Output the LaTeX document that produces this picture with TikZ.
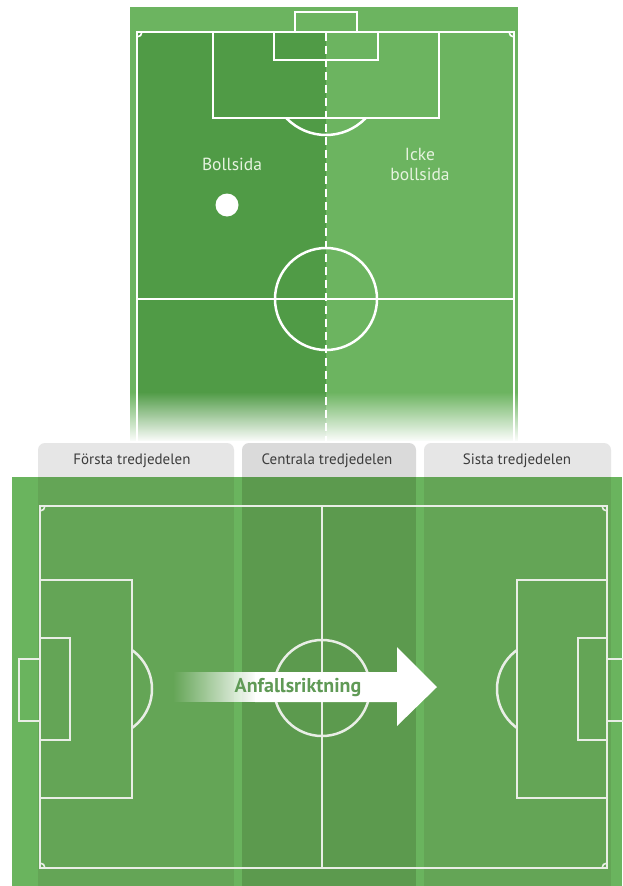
\documentclass[tikz,border=0pt]{standalone}
\usepackage{fontspec}
\setmainfont{PT Sans}
\usetikzlibrary{fadings}

\definecolor{topdark}{HTML}{509B46}
\definecolor{toplight}{HTML}{6CB460}
\definecolor{fieldlight}{HTML}{6AB45E}
\definecolor{fieldmid}{HTML}{64A556}
\definecolor{fielddark}{HTML}{5C9A4E}
\definecolor{tabgray}{HTML}{E6E6E6}
\definecolor{tabgraydark}{HTML}{DADADA}
\definecolor{tabtext}{HTML}{3C3C3C}
\definecolor{chalk}{HTML}{E9EEE6}
\definecolor{arrowtext}{HTML}{609A56}
\definecolor{sidetext}{HTML}{E6F3DF}

\tikzfading[name=fadeleft, left color=transparent!100, right color=transparent!0]
\tikzfading[name=fadedown, top color=transparent!100, bottom color=transparent!0]

\tikzset{
  topline/.style={draw=white, line width=2.5pt},
  fieldline/.style={draw=chalk, line width=2.5pt},
  tablabel/.style={text=tabtext, font=\fontsize{15}{15}\selectfont, inner sep=0pt},
  sidelabel/.style={text=sidetext, font=\fontsize{17.5}{20}\selectfont, align=center, inner sep=0pt},
  tabshape/.style={rounded corners=7pt},
}

\begin{document}
\begin{tikzpicture}[x=1pt, y=-1pt]
  \useasboundingbox (0,0) rectangle (622,886);
  \fill[white] (0,0) rectangle (622,886);

  % ---- upper pitch: ball side / non-ball side ----
  \fill[toplight] (130,7) rectangle (518,441);
  \fill[topdark] (137,32) rectangle (326,441);

  \draw[topline] (137,441) -- (137,32) -- (514,32) -- (514,441);
  \draw[topline] (137,299) -- (514,299);
  \draw[topline] (213,32) rectangle (439,118);
  \draw[topline] (274,32) rectangle (378,60);
  \draw[topline] (295,32) -- (295,12) -- (357,12) -- (357,32);
  \draw[topline] (326,299) circle[radius=51];
  \begin{scope}
    \clip (200,118) rectangle (450,200);
    \draw[topline] (326,80) circle[radius=55];
  \end{scope}
  \begin{scope}
    \clip (137,32) rectangle (514,441);
    \draw[topline, line width=1.6pt] (137,32) circle[radius=5];
    \draw[topline, line width=1.6pt] (514,32) circle[radius=5];
  \end{scope}
  \draw[topline, dash pattern=on 8pt off 5pt] (326,33) -- (326,441);

  \node[sidelabel] (ballside) at (232,164) {Bollsida};
  \node[sidelabel] (farside) at (420,164) {Icke\\bollsida};
  \node[circle, fill=white, minimum size=23pt, inner sep=0pt] (ball) at (227,205) {};

  % upper pitch dissolves into the page
  \fill[white, path fading=fadedown] (128,392) rectangle (520,442);

  % ---- thirds tabs ----
  \fill[tabgray, tabshape] (38,443) rectangle (234,495);
  \fill[tabgraydark, tabshape] (242,443) rectangle (416,495);
  \fill[tabgray, tabshape] (424,443) rectangle (611,495);
  \node[tablabel] (first) at (132,461) {Första tredjedelen};
  \node[tablabel] (central) at (327,461) {Centrala tredjedelen};
  \node[tablabel] (last) at (517,461) {Sista tredjedelen};

  % ---- lower pitch: thirds ----
  \fill[fieldlight] (12,477) rectangle (622,886);
  \fill[fieldmid] (38,477) rectangle (234,886);
  \fill[fielddark] (242,477) rectangle (416,886);
  \fill[fieldmid] (424,477) rectangle (611,886);

  \draw[fieldline] (40,506) rectangle (607,868);
  \draw[fieldline, line width=2pt] (322,506) -- (322,868);
  \draw[fieldline] (322,688) circle[radius=48];
  % left end
  \draw[fieldline] (40,580) rectangle (132,798);
  \draw[fieldline] (40,638) rectangle (70,740);
  \draw[fieldline] (40,659) -- (19,659) -- (19,721) -- (40,721);
  % right end
  \draw[fieldline] (517,580) rectangle (607,798);
  \draw[fieldline] (578,638) rectangle (607,740);
  \draw[fieldline] (607,659) -- (630,659);
  \draw[fieldline] (607,721) -- (630,721);
  \begin{scope}
    \clip (132,560) rectangle (200,820);
    \draw[fieldline] (104,689) circle[radius=48];
  \end{scope}
  \begin{scope}
    \clip (450,560) rectangle (517,820);
    \draw[fieldline] (545,689) circle[radius=48];
  \end{scope}
  \begin{scope}
    \clip (40,506) rectangle (607,868);
    \foreach \cx/\cy in {40/506, 607/506, 40/868, 607/868}
      \draw[fieldline, line width=1.6pt] (\cx,\cy) circle[radius=5];
  \end{scope}

  % ---- direction of attack ----
  \fill[white, path fading=fadeleft] (173,672) rectangle (256,702);
  \fill[white] (255,672) -- (397,672) -- (397,647) -- (437,687)
               -- (397,726) -- (397,702) -- (255,702) -- cycle;
  \node[text=arrowtext, font=\bfseries\fontsize{20}{20}\selectfont, inner sep=0pt]
    (direction) at (298,688) {Anfallsriktning};
\end{tikzpicture}
\end{document}
